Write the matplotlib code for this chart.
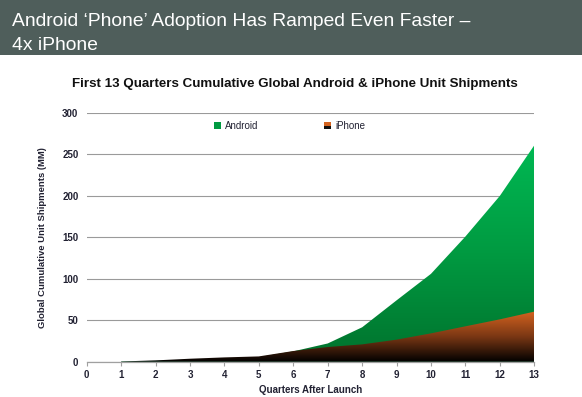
import numpy as np
import matplotlib
matplotlib.use("Agg")
import matplotlib.pyplot as plt
from matplotlib.colors import LinearSegmentedColormap
from matplotlib.patches import Rectangle
from matplotlib.legend_handler import HandlerBase

plt.rcParams['font.family'] = ['Liberation Sans', 'DejaVu Sans']

# cumulative unit shipments (MM) by quarter after launch
quarters = np.arange(1, 14)
android = [0.5, 1.0, 2.0, 3.5, 5.5, 12.5, 22, 41.5, 74, 106, 151, 200, 261]
iphone = [0.3, 1.6, 3.6, 5.2, 6.4, 12.9, 17.7, 20.9, 26.6, 34.2, 42.7, 51.1, 60.4]
x_ticks = list(range(0, 14))
y_ticks = [0, 50, 100, 150, 200, 250, 300]

headline_1 = 'Android \u2018Phone\u2019 Adoption Has Ramped Even Faster \u2013'
headline_2 = '4x iPhone'
chart_title = 'First 13 Quarters Cumulative Global Android & iPhone Unit Shipments'

green_stops = ['#00722d', '#009a41', '#00b853']
orange_stops = ['#000000', '#7a3714', '#d4631f']


def gradient_area(ax, x, y, stops, z):
    x = np.asarray(x, float)
    y = np.asarray(y, float)
    area = ax.fill_between(x, 0, y, facecolor='none', edgecolor='none', zorder=z)
    cmap = LinearSegmentedColormap.from_list('grad', stops)
    grad = np.linspace(0, 1, 256).reshape(-1, 1)
    im = ax.imshow(grad, cmap=cmap, aspect='auto', origin='lower',
                   extent=[x.min(), x.max(), 0, y.max()], zorder=z,
                   interpolation='bilinear')
    im.set_clip_path(area.get_paths()[0], ax.transData)
    return area


class GradientBox(HandlerBase):
    def __init__(self, stops):
        super().__init__()
        self.stops = stops

    def create_artists(self, legend, orig_handle, xdescent, ydescent,
                       width, height, fontsize, trans):
        s = min(width, height)
        x0 = -xdescent + (width - s) / 2
        y0 = -ydescent + (height - s) / 2
        top = Rectangle((x0, y0 + s / 2), s, s / 2, facecolor=self.stops[-1],
                        edgecolor='none', transform=trans)
        bot = Rectangle((x0, y0), s, s / 2, facecolor=self.stops[0],
                        edgecolor='none', transform=trans)
        return [bot, top]


fig = plt.figure(figsize=(5.82, 3.97), dpi=100)
ax = fig.add_axes([0.149, 0.0889, 0.769, 0.6265])

# header band
fig.patches.append(Rectangle((0, 1 - 55 / 397), 1, 55 / 397, transform=fig.transFigure,
                             facecolor='#4f5e5b', edgecolor='none', zorder=0))
fig.text(12 / 582, 1 - 26 / 397, headline_1, color='white', fontsize=13.9,
         va='baseline', ha='left')
fig.text(12 / 582, 1 - 50 / 397, headline_2, color='white', fontsize=13.9,
         va='baseline', ha='left')

fig.text(0.507, 1 - 84 / 397, chart_title, fontsize=9.6, fontweight='bold',
         color='#111111', ha='center', va='center')

a_area = gradient_area(ax, quarters, android, green_stops, 2)
i_area = gradient_area(ax, quarters, iphone, orange_stops, 3)

ax.set_xlim(0, 13)
ax.set_ylim(0, 300)
ax.set_xticks(x_ticks)
ax.set_yticks(y_ticks)
ax.grid(axis='y', color='#9a9a9a', linewidth=0.8, zorder=1)
ax.set_axisbelow(True)
for side in ['top', 'right', 'left']:
    ax.spines[side].set_visible(False)
ax.spines['bottom'].set_color('#a0a0a0')
ax.spines['bottom'].set_linewidth(0.9)
ax.spines['bottom'].set_zorder(4)
ax.tick_params(axis='y', length=0, pad=6, labelsize=7, labelcolor='#222233')
ax.tick_params(axis='x', length=3, color='#a0a0a0', pad=3, labelsize=7,
               labelcolor='#222233')
for lab in ax.get_xticklabels() + ax.get_yticklabels():
    lab.set_fontweight('bold')

ax.set_xlabel('Quarters After Launch', fontsize=7, fontweight='bold', color='#222233')
ax.xaxis.set_label_coords(0.5, -0.095)
ax.set_ylabel('Global Cumulative Unit Shipments (MM)', fontsize=6.8,
              fontweight='bold', color='#222233')
ax.yaxis.set_label_coords(-0.088, 0.5)

h_a = Rectangle((0, 0), 1, 1)
h_i = Rectangle((0, 0), 1, 1)
ax.legend([h_a, h_i], ['Android', 'iPhone'], ncol=2, frameon=False,
          loc='center left', bbox_to_anchor=(0.265, 0.948),
          fontsize=7, handlelength=0.7, handleheight=0.7, handletextpad=0.4,
          columnspacing=6.8, labelcolor='#222233',
          handler_map={h_a: GradientBox([green_stops[1], green_stops[1]]),
                       h_i: GradientBox(['#111111', orange_stops[-1]])})

fig.savefig('out.png', dpi=100)
